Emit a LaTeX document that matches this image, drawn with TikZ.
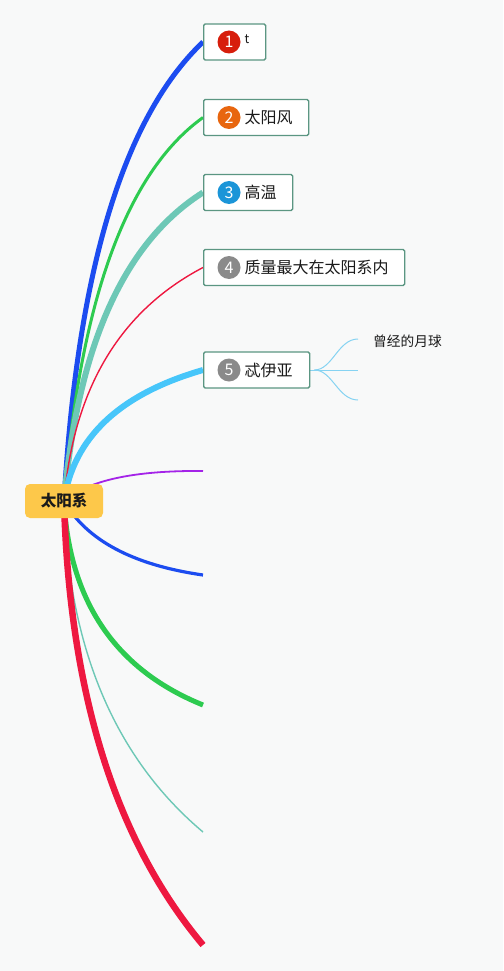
\documentclass[tikz,border=0pt]{standalone}
\usepackage{fontspec}
\newfontfamily\cjk{Noto Sans CJK SC}
\usetikzlibrary{calc}
\pgfdeclarelayer{bg}
\pgfdeclarelayer{curves}
\pgfsetlayers{bg,curves,main}
\definecolor{bgcol}{HTML}{F8F9F9}
\definecolor{rooty}{HTML}{FDC84A}
\definecolor{boxline}{HTML}{5B9682}
\definecolor{cblue}{HTML}{1C4CF0}
\definecolor{cgreen}{HTML}{2DCB50}
\definecolor{cteal}{HTML}{6DC8B6}
\definecolor{cred}{HTML}{EE1840}
\definecolor{clblue}{HTML}{47C6FA}
\definecolor{cpurple}{HTML}{A423E8}
\definecolor{csub}{HTML}{86D3F2}
\definecolor{num1}{HTML}{D71E0C}
\definecolor{num2}{HTML}{E8660F}
\definecolor{num3}{HTML}{1B95D8}
\definecolor{numg}{HTML}{8A8A8A}
\definecolor{txt}{HTML}{1A1A1A}
\begin{document}
\begin{tikzpicture}[x=1pt,y=-1pt,
  rootbox/.style={fill=rooty, rounded corners=5pt, minimum width=78pt, minimum height=34pt, inner sep=0pt, text=txt, font=\cjk\bfseries\fontsize{15.5pt}{18pt}\selectfont},
  topic/.style={draw=boxline, line width=1.4pt, fill=white, rounded corners=1.5pt, anchor=west, minimum height=36pt, inner sep=0pt},
  numc/.style={circle, minimum size=23pt, inner sep=0pt, text=white, font=\cjk\fontsize{16pt}{18pt}\selectfont},
  lbl/.style={anchor=west, inner sep=0pt, text=txt, font=\cjk\fontsize{16pt}{18pt}\selectfont},
  sublbl/.style={anchor=west, inner sep=0pt, text=txt, font=\cjk\fontsize{13.7pt}{16pt}\selectfont},
  br/.style={line cap=butt}
]
\begin{pgfonlayer}{bg}
\fill[bgcol] (0,0) rectangle (503,971);
\end{pgfonlayer}
\useasboundingbox (0,0) rectangle (503,971);

% root
\node[rootbox] (root) at (64,501) {太阳系};

% topics
\node[topic, minimum width=62pt] (n1) at (203,42) {};
\node[topic, minimum width=105pt] (n2) at (203,117.5) {};
\node[topic, minimum width=89pt] (n3) at (203,192.5) {};
\node[topic, minimum width=201pt] (n4) at (203,267.5) {};
\node[topic, minimum width=106pt] (n5) at (203,370) {};

\node[numc, fill=num1] (b1) at ($(n1.west)+(26,0)$) {1};
\node[numc, fill=num2] (b2) at ($(n2.west)+(26,0)$) {2};
\node[numc, fill=num3] (b3) at ($(n3.west)+(26,0)$) {3};
\node[numc, fill=numg] (b4) at ($(n4.west)+(26,0)$) {4};
\node[numc, fill=numg] (b5) at ($(n5.west)+(26,0)$) {5};

\node[anchor=base west, inner sep=0pt, text=txt, font=\cjk\fontsize{12.5pt}{14pt}\selectfont] (t1) at (244.5,44) {t};
\node[lbl] (t2) at ($(n2.west)+(41.5,0)$) {太阳风};
\node[lbl] (t3) at ($(n3.west)+(41.5,0)$) {高温};
\node[lbl] (t4) at ($(n4.west)+(41.5,0)$) {质量最大在太阳系内};
\node[lbl] (t5) at ($(n5.west)+(41.5,0)$) {忒伊亚};

% sub-branch ends and label
\coordinate (s1) at (358,339);
\coordinate (s2) at (358,370);
\coordinate (s3) at (358,400);
\node[sublbl] (sl1) at (373,341) {曾经的月球};

% free ends of lower branches
\coordinate (e6) at (203,471);
\coordinate (e7) at (203,575);
\coordinate (e8) at (203,705);
\coordinate (e9) at (203,832);
\coordinate (e10) at (203,945);

% quadratic control points
\coordinate (q1) at (84,155);
\coordinate (q2) at (88,200);
\coordinate (q3) at (85,267);
\coordinate (q4) at (78,333);
\coordinate (q5) at (78,406);
\coordinate (q6) at (100,470);
\coordinate (q7) at (98,560);
\coordinate (q8) at (72,652);
\coordinate (q9) at (70,720);
\coordinate (q10) at (72,789);

\begin{pgfonlayer}{curves}
\draw[br, cblue, line width=5pt] (root.center) .. controls ($(root.center)!2/3!(q1)$) and ($(n1.west)!2/3!(q1)$) .. (n1.west);
\draw[br, cgreen, line width=3pt] (root.center) .. controls ($(root.center)!2/3!(q2)$) and ($(n2.west)!2/3!(q2)$) .. (n2.west);
\draw[br, cteal, line width=6pt] (root.center) .. controls ($(root.center)!2/3!(q3)$) and ($(n3.west)!2/3!(q3)$) .. (n3.west);
\draw[br, cred, line width=1.4pt] (root.center) .. controls ($(root.center)!2/3!(q4)$) and ($(n4.west)!2/3!(q4)$) .. (n4.west);
\draw[br, clblue, line width=6pt] (root.center) .. controls ($(root.center)!2/3!(q5)$) and ($(n5.west)!2/3!(q5)$) .. (n5.west);
\draw[br, cpurple, line width=1.8pt] (root.center) .. controls ($(root.center)!2/3!(q6)$) and ($(e6)!2/3!(q6)$) .. (e6);
\draw[br, cblue, line width=3.2pt] (root.center) .. controls ($(root.center)!2/3!(q7)$) and ($(e7)!2/3!(q7)$) .. (e7);
\draw[br, cgreen, line width=5pt] (root.center) .. controls ($(root.center)!2/3!(q8)$) and ($(e8)!2/3!(q8)$) .. (e8);
\draw[br, cteal, line width=1.4pt] (root.center) .. controls ($(root.center)!2/3!(q9)$) and ($(e9)!2/3!(q9)$) .. (e9);
\draw[br, cred, line width=6.5pt] (root.center) .. controls ($(root.center)!2/3!(q10)$) and ($(e10)!2/3!(q10)$) .. (e10);
% sub-branches
\draw[csub, line width=1pt] (n5.east) -- ++(4,0) coordinate (j5);
\draw[csub, line width=1pt] (j5) .. controls +(18,0) and +(-20,0) .. (s1);
\draw[csub, line width=1pt] (j5) -- (s2);
\draw[csub, line width=1pt] (j5) .. controls +(18,0) and +(-20,0) .. (s3);
\end{pgfonlayer}
\end{tikzpicture}
\end{document}
